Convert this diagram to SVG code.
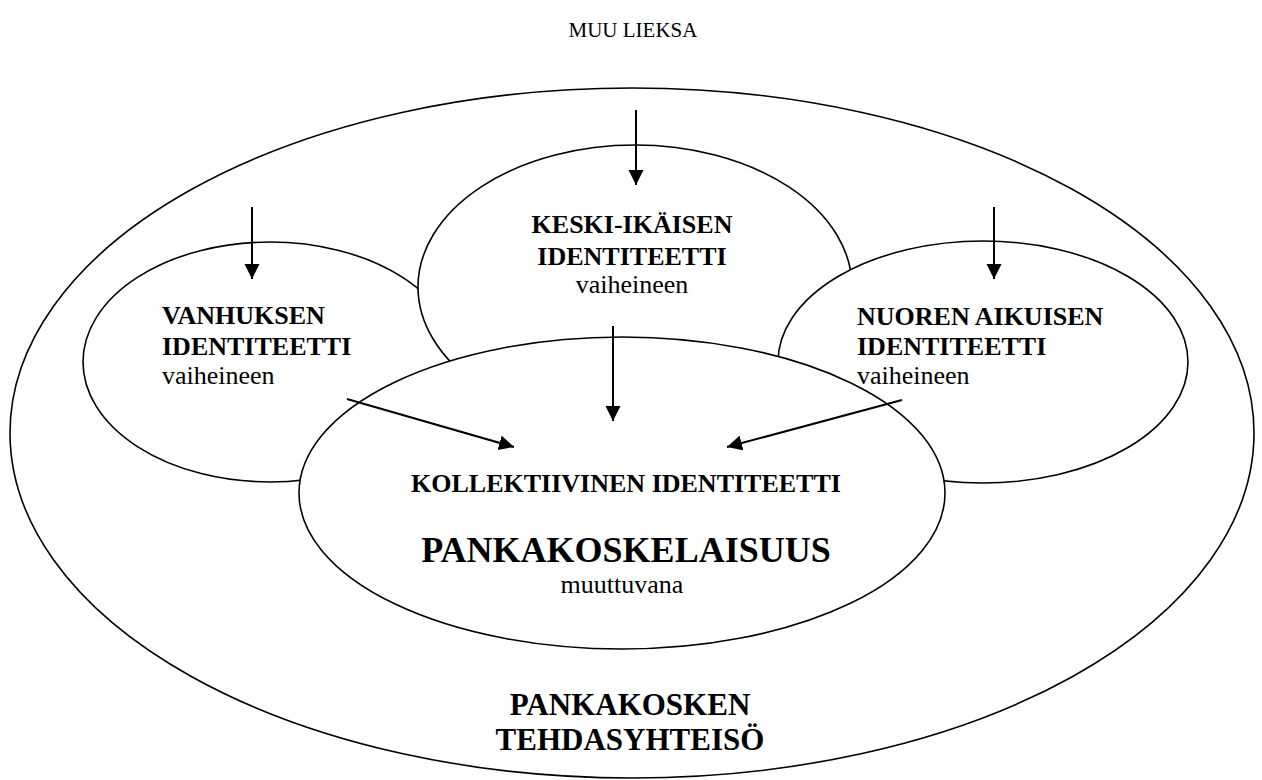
<svg xmlns="http://www.w3.org/2000/svg" width="1262" height="780" viewBox="0 0 1262 780">
<style>
  .shape { fill: #ffffff; stroke: #000000; stroke-width: 1.6; }
  .conn { stroke: #000000; stroke-width: 2; fill: none; marker-end: url(#ah); }
  text { font-family: "Liberation Serif", "Times New Roman", serif; fill: #000000; }
  .b { font-weight: bold; font-size: 26px; }
  .r { font-size: 26px; }
  .c { text-anchor: middle; }
</style>
<defs>
  <marker id="ah" markerUnits="userSpaceOnUse" markerWidth="16" markerHeight="16" refX="15" refY="7.5" orient="auto">
    <path d="M0,0 L15,7.5 L0,15 Z" fill="#000000"/>
  </marker>
</defs>
<rect x="0" y="0" width="1262" height="780" fill="#ffffff"/>
<text class="r c" x="633" y="37" style="font-size:21px">MUU LIEKSA</text>
<g id="yhteiso">
  <ellipse class="shape" cx="632" cy="433" rx="622" ry="345"/>
  <text class="c" x="630" y="715" style="font-weight:bold;font-size:31px">PANKAKOSKEN</text>
  <text class="c" x="630" y="750" style="font-weight:bold;font-size:31px">TEHDASYHTEISÖ</text>
</g>
<g id="vanhus">
  <ellipse class="shape" cx="270" cy="362" rx="187" ry="120"/>
  <text class="b" x="162" y="324">VANHUKSEN</text>
  <text class="b" x="162" y="355">IDENTITEETTI</text>
  <text class="r" x="162" y="384">vaiheineen</text>
</g>
<g id="keski">
  <ellipse class="shape" cx="635" cy="287" rx="217" ry="142"/>
  <text class="b c" x="632" y="233">KESKI-IKÄISEN</text>
  <text class="b c" x="632" y="265">IDENTITEETTI</text>
  <text class="r c" x="632" y="293">vaiheineen</text>
</g>
<g id="nuori">
  <ellipse class="shape" cx="983" cy="362" rx="205" ry="121"/>
  <text class="b" x="857" y="325">NUOREN AIKUISEN</text>
  <text class="b" x="857" y="355">IDENTITEETTI</text>
  <text class="r" x="857" y="384">vaiheineen</text>
</g>
<g id="kollektiivinen">
  <ellipse class="shape" cx="622" cy="493" rx="323" ry="156"/>
  <text class="b c" x="626" y="492">KOLLEKTIIVINEN IDENTITEETTI</text>
  <text class="c" x="626" y="562" style="font-weight:bold;font-size:36px">PANKAKOSKELAISUUS</text>
  <text class="r c" x="622" y="593">muuttuvana</text>
</g>
<g id="connectors">
  <line class="conn" x1="636" y1="110" x2="636" y2="185"/>
  <line class="conn" x1="252" y1="207" x2="252" y2="279"/>
  <line class="conn" x1="994" y1="207" x2="994" y2="279"/>
  <line class="conn" x1="613" y1="326" x2="613" y2="421"/>
  <line class="conn" x1="347" y1="399" x2="514" y2="447"/>
  <line class="conn" x1="902" y1="400" x2="727" y2="447"/>
</g>
</svg>
